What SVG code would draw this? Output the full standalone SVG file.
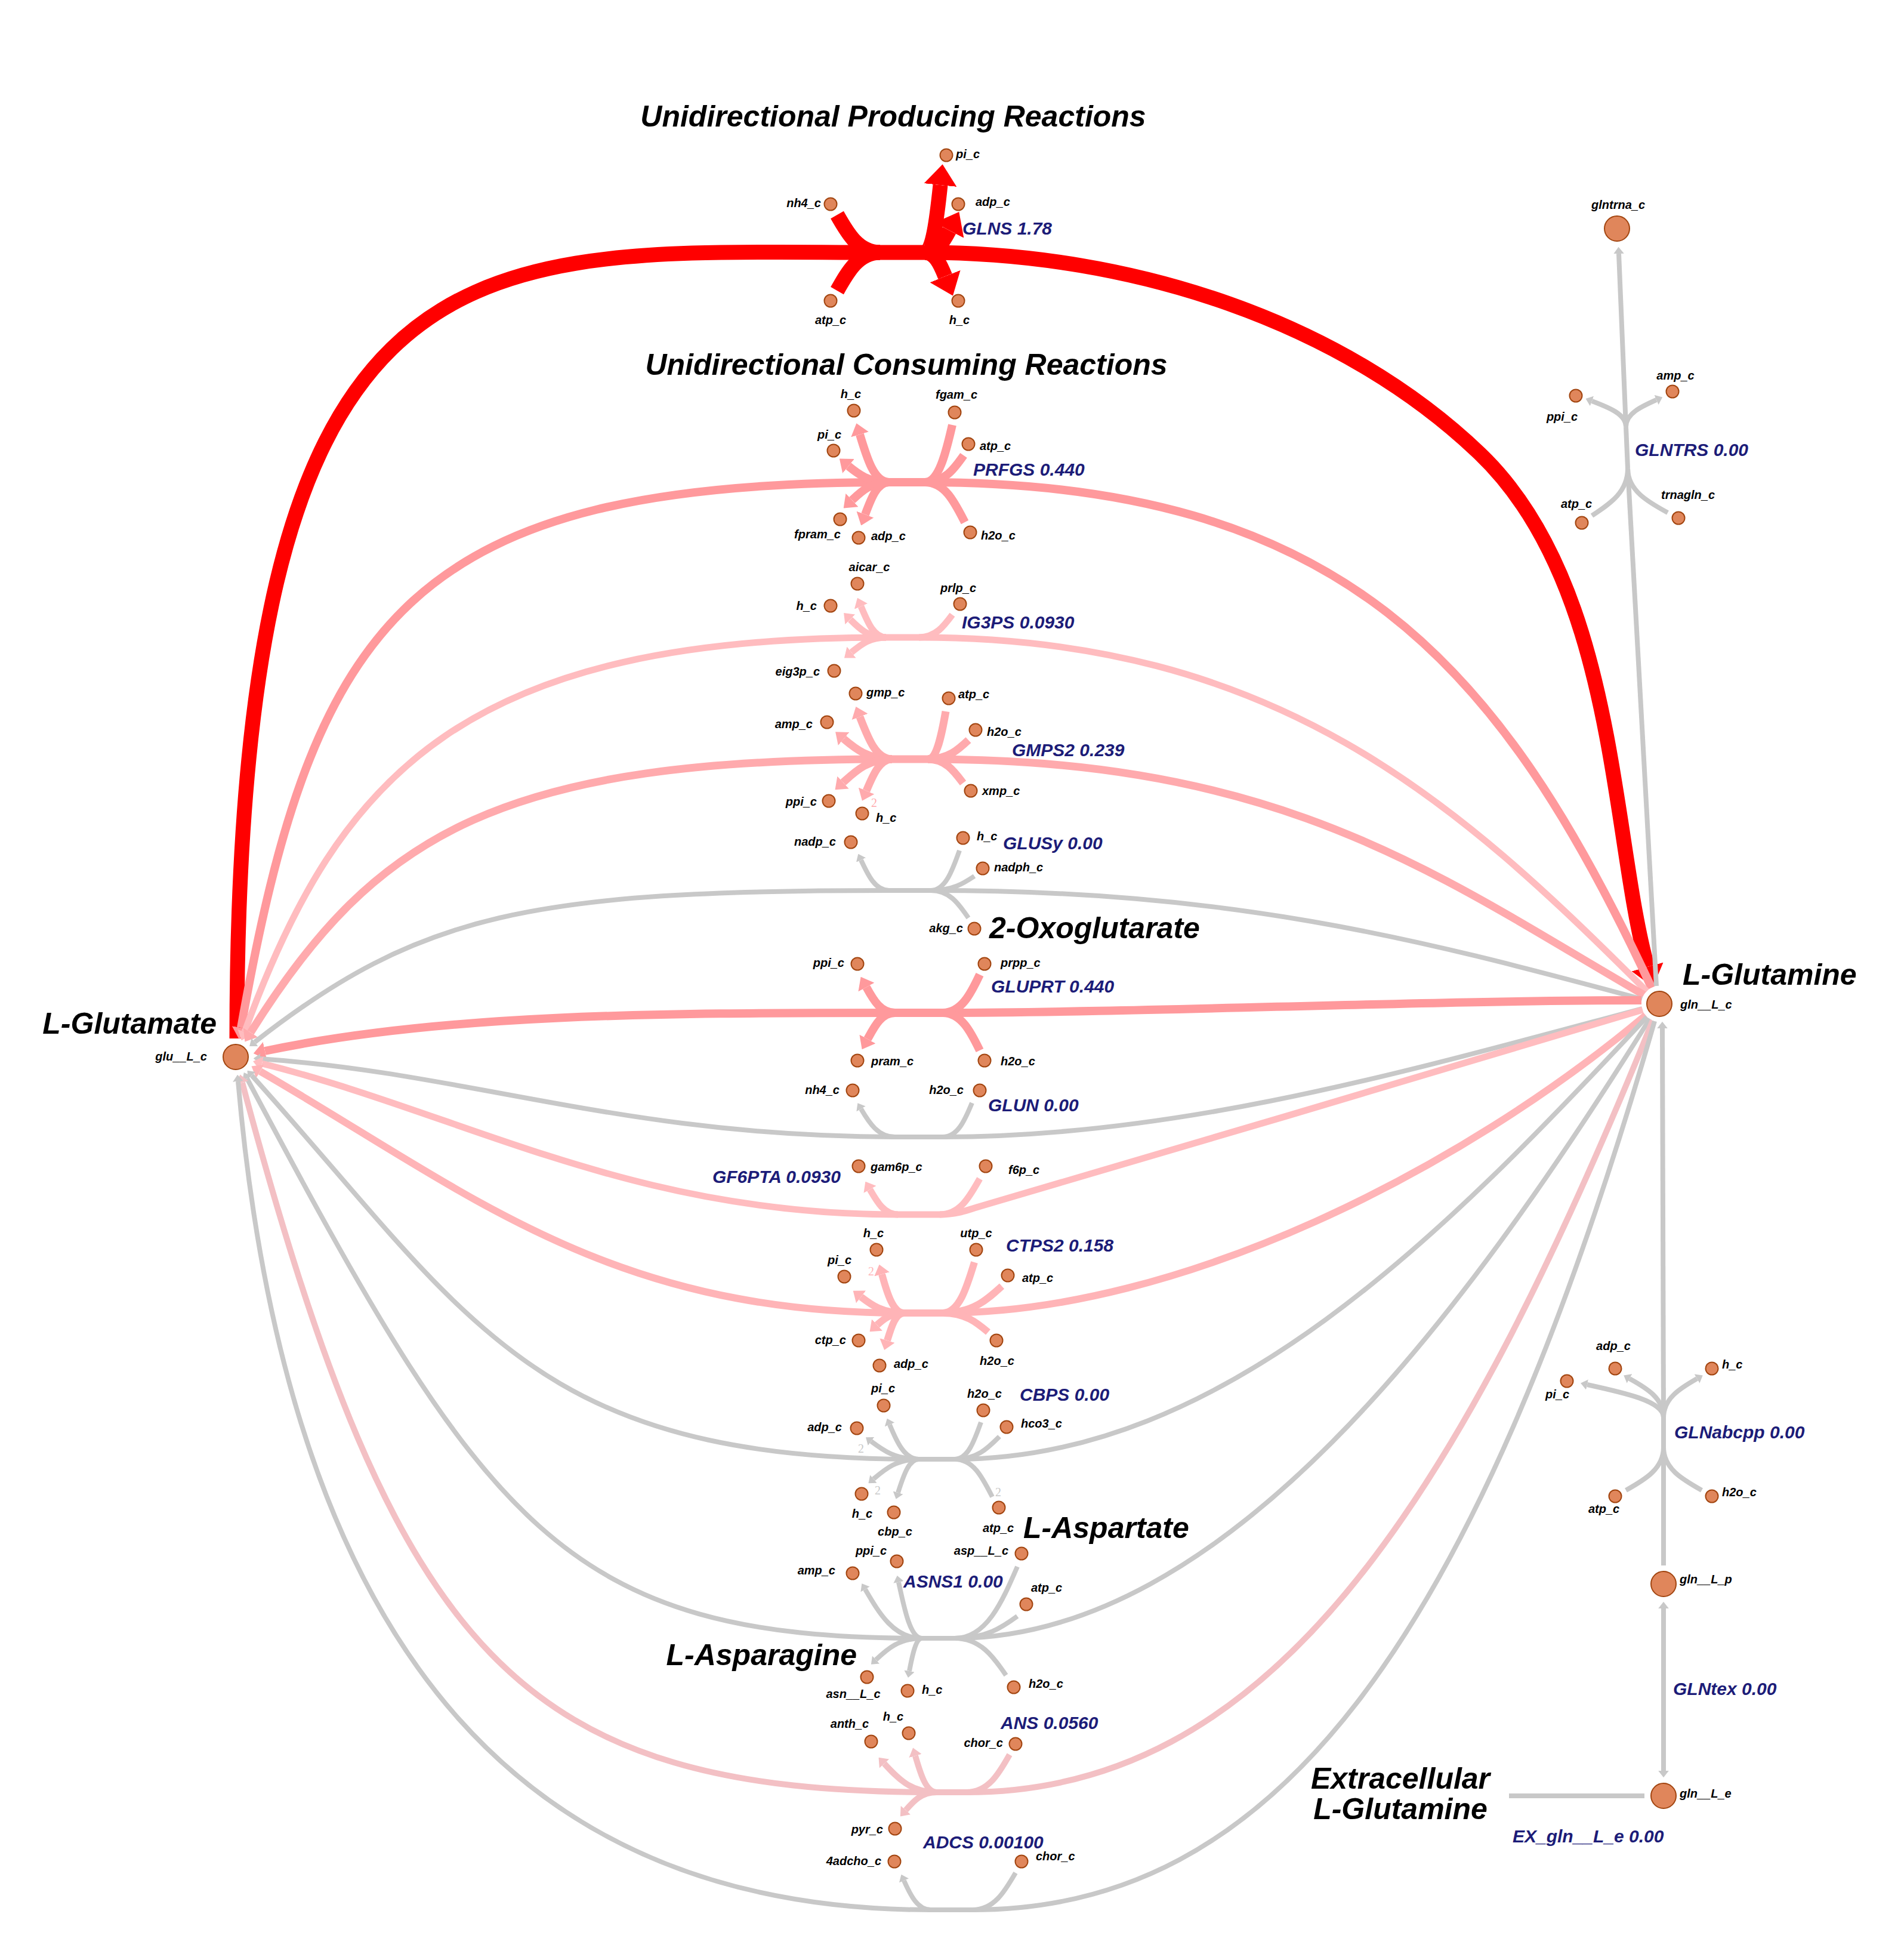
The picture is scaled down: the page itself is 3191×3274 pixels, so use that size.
<svg xmlns="http://www.w3.org/2000/svg" width="3191" height="3274" viewBox="0 0 3191 3274">
<style>
.c{fill:none;stroke-linecap:butt}
.r0{stroke:#ff0000;stroke-width:25}
.r1{stroke:#ff999c;stroke-width:14}
.r2{stroke:#ffaaad;stroke-width:13}
.r3{stroke:#ffb4b7;stroke-width:12}
.r4{stroke:#ffbcbf;stroke-width:11}
.r5{stroke:#f3c0c4;stroke-width:10}
.g{stroke:#c8c8c8;stroke-width:8}
.m0{marker-end:url(#a0)}.m1{marker-end:url(#a1)}.m2{marker-end:url(#a2)}.m3{marker-end:url(#a3)}.m4{marker-end:url(#a4)}.m5{marker-end:url(#a5)}.mg{marker-end:url(#ag)}
.ml{font-family:"Liberation Sans",Arial,sans-serif;font-size:20px;font-weight:bold;font-style:italic;fill:#000}
.rl{font-family:"Liberation Sans",Arial,sans-serif;font-size:30px;font-weight:bold;font-style:italic;fill:#1c1c78}
.big{font-family:"Liberation Sans",Arial,sans-serif;font-size:50px;font-weight:bold;font-style:italic;fill:#000}
.s{fill:#e0865b;stroke:#a24510;stroke-width:2}
.e{text-anchor:end}.mid{text-anchor:middle}
.n2{font-family:"Liberation Serif",serif;font-size:20px;text-anchor:middle}
</style>
<defs>
<marker id="a0" viewBox="0 0 10 10" refX="0" refY="5" markerWidth="1.4" markerHeight="2.2" markerUnits="strokeWidth" orient="auto" preserveAspectRatio="none"><path d="M0,0 L10,5 L0,10 z" fill="#ff0000"/></marker>
<marker id="a1" viewBox="0 0 10 10" refX="0" refY="5" markerWidth="1.4" markerHeight="2.2" markerUnits="strokeWidth" orient="auto" preserveAspectRatio="none"><path d="M0,0 L10,5 L0,10 z" fill="#ff999c"/></marker>
<marker id="a2" viewBox="0 0 10 10" refX="0" refY="5" markerWidth="1.4" markerHeight="2.2" markerUnits="strokeWidth" orient="auto" preserveAspectRatio="none"><path d="M0,0 L10,5 L0,10 z" fill="#ffaaad"/></marker>
<marker id="a3" viewBox="0 0 10 10" refX="0" refY="5" markerWidth="1.4" markerHeight="2.2" markerUnits="strokeWidth" orient="auto" preserveAspectRatio="none"><path d="M0,0 L10,5 L0,10 z" fill="#ffb4b7"/></marker>
<marker id="a4" viewBox="0 0 10 10" refX="0" refY="5" markerWidth="1.4" markerHeight="2.2" markerUnits="strokeWidth" orient="auto" preserveAspectRatio="none"><path d="M0,0 L10,5 L0,10 z" fill="#ffbcbf"/></marker>
<marker id="a5" viewBox="0 0 10 10" refX="0" refY="5" markerWidth="1.4" markerHeight="2.2" markerUnits="strokeWidth" orient="auto" preserveAspectRatio="none"><path d="M0,0 L10,5 L0,10 z" fill="#f3c0c4"/></marker>
<marker id="ag" viewBox="0 0 10 10" refX="0" refY="5" markerWidth="1.4" markerHeight="2.2" markerUnits="strokeWidth" orient="auto" preserveAspectRatio="none"><path d="M0,0 L10,5 L0,10 z" fill="#c8c8c8"/></marker>
</defs>
<rect width="3191" height="3274" fill="#ffffff"/>

<g id="connectors">
<g id="GLNS" class="c r0">
<path d="M397,1740 C397,350 800,423 1475,423"/>
<path d="M1475,423 L1550,423"/>
<path class="m0" d="M1550,423 C1900,423 2250,540 2480,760 C2710,980 2700,1400 2761,1620"/>
<path d="M1475,423 C1439,423 1421,392 1403,360"/>
<path d="M1475,423 C1439,423 1421,455 1403,487"/>
<path class="m0" d="M1550,423 C1563,423 1570,367 1576,310"/>
<path class="m0" d="M1550,423 C1571,423 1581,405 1591,386"/>
<path class="m0" d="M1550,423 C1567,423 1576,443 1584,463"/>
</g>
<g id="PRFGS" class="c r1">
<path d="M1490,808 L1550,808"/>
<path class="m1" d="M1490,808 C690,808 526,1032 404,1722"/>
<path d="M1550,808 C2250,808 2514,1111 2768,1655"/>
<path class="m1" d="M1490,808 C1465,808 1453,768 1441,728"/>
<path class="m1" d="M1490,808 C1456,808 1439,795 1422,781"/>
<path class="m1" d="M1490,808 C1459,808 1444,823 1428,838"/>
<path class="m1" d="M1490,808 C1470,808 1460,835 1450,862"/>
<path d="M1550,808 C1573,808 1585,760 1596,712"/>
<path d="M1550,808 C1583,808 1599,786 1615,763"/>
<path d="M1550,808 C1584,808 1600,842 1617,875"/>
</g>
<g id="IG3PS" class="c r4">
<path d="M1485,1068 L1540,1068"/>
<path class="m4" d="M1485,1068 C785,1068 570,1290 410,1729"/>
<path d="M1540,1068 C2140,1068 2442,1343 2760,1661"/>
<path class="m4" d="M1485,1068 C1464,1068 1454,1042 1443,1016"/>
<path class="m4" d="M1485,1068 C1455,1068 1440,1053 1425,1038"/>
<path class="m4" d="M1485,1068 C1456,1068 1442,1081 1427,1093"/>
<path d="M1540,1068 C1568,1068 1582,1049 1596,1030"/>
</g>
<g id="GMPS2" class="c r2">
<path d="M1495,1272 L1555,1272"/>
<path class="m2" d="M1495,1272 C845,1272 632,1391 420,1730"/>
<path d="M1555,1272 C2155,1272 2409,1467 2755,1667"/>
<path class="m2" d="M1495,1272 C1468,1272 1455,1237 1441,1201"/>
<path class="m2" d="M1495,1272 C1455,1272 1434,1255 1414,1238"/>
<path class="m2" d="M1495,1272 C1454,1272 1434,1292 1413,1311"/>
<path class="m2" d="M1495,1272 C1474,1272 1463,1299 1452,1325"/>
<path d="M1555,1272 C1570,1272 1578,1232 1585,1192"/>
<path d="M1555,1272 C1589,1272 1606,1256 1623,1240"/>
<path d="M1555,1272 C1585,1272 1599,1292 1614,1312"/>
</g>
<g id="GLUSy" class="c g">
<path d="M1490,1492 L1560,1492"/>
<path class="mg" d="M1490,1492 C890,1492 703,1530 427,1746"/>
<path d="M1560,1492 C2060,1492 2366,1570 2752,1674"/>
<path class="mg" d="M1490,1492 C1467,1492 1455,1467 1443,1441"/>
<path d="M1560,1492 C1584,1492 1596,1459 1608,1425"/>
<path d="M1560,1492 C1597,1492 1615,1480 1633,1468"/>
<path d="M1560,1492 C1592,1492 1607,1515 1623,1538"/>
</g>
<g id="GLUPRT" class="c r1">
<path d="M1500,1697 L1580,1697"/>
<path class="m1" d="M1500,1697 C1100,1697 737,1699 444,1761"/>
<path d="M1580,1697 C1900,1697 2400,1676 2751,1676"/>
<path class="m1" d="M1500,1697 C1476,1697 1464,1676 1452,1654"/>
<path class="m1" d="M1500,1697 C1477,1697 1466,1719 1454,1741"/>
<path d="M1580,1697 C1611,1697 1627,1665 1642,1633"/>
<path d="M1580,1697 C1611,1697 1627,1729 1642,1760"/>
</g>
<g id="GLUN" class="c g">
<path d="M1500,1905 L1580,1905"/>
<path class="mg" d="M1500,1905 C1050,1905 785,1798 436,1774"/>
<path d="M1580,1905 C1980,1905 2366,1793 2752,1690"/>
<path class="mg" d="M1500,1905 C1472,1905 1457,1882 1443,1858"/>
<path d="M1580,1905 C1605,1905 1617,1877 1629,1848"/>
</g>
<g id="GF6PTA" class="c r4">
<path d="M1505,2035 L1575,2035"/>
<path class="m4" d="M1505,2035 C1055,2035 779,1867 439,1782"/>
<path d="M1575,2035 C1600,2035 1615,2030 1640,2022 C2000,1915 2400,1800 2753,1692"/>
<path class="m4" d="M1505,2035 C1482,2035 1470,2014 1458,1993"/>
<path d="M1575,2035 C1609,2035 1625,2005 1642,1975"/>
</g>
<g id="CTPS2" class="c r3">
<path d="M1515,2200 L1580,2200"/>
<path class="m3" d="M1515,2200 C1015,2200 782,1995 436,1795"/>
<path d="M1580,2200 C1980,2200 2452,1958 2758,1701"/>
<path class="m3" d="M1515,2200 C1497,2200 1487,2168 1478,2135"/>
<path class="m3" d="M1515,2200 C1479,2200 1461,2187 1443,2173"/>
<path class="m3" d="M1515,2200 C1493,2200 1481,2210 1470,2220"/>
<path class="m3" d="M1515,2200 C1501,2200 1494,2223 1487,2246"/>
<path d="M1580,2200 C1607,2200 1620,2158 1633,2115"/>
<path d="M1580,2200 C1630,2200 1654,2178 1679,2155"/>
<path d="M1580,2200 C1618,2200 1637,2216 1656,2232"/>
</g>
<g id="CBPS" class="c g">
<path d="M1540,2445 L1600,2445"/>
<path class="mg" d="M1540,2445 C890,2445 790,2211 422,1802"/>
<path d="M1600,2445 C2050,2445 2419,2070 2760,1704"/>
<path class="mg" d="M1540,2445 C1516,2445 1503,2416 1491,2387"/>
<path class="mg" d="M1540,2445 C1500,2445 1480,2430 1460,2415"/>
<path class="mg" d="M1540,2445 C1502,2445 1483,2462 1464,2478"/>
<path class="mg" d="M1540,2445 C1523,2445 1514,2473 1505,2501"/>
<path d="M1600,2445 C1622,2445 1633,2414 1644,2383"/>
<path d="M1600,2445 C1638,2445 1656,2426 1675,2407"/>
<path d="M1600,2445 C1632,2445 1647,2477 1663,2508"/>
</g>
<g id="ASNS1" class="c g">
<path d="M1545,2745 L1600,2745"/>
<path class="mg" d="M1545,2745 C945,2745 813,2558 414,1807"/>
<path d="M1600,2745 C2050,2745 2447,2216 2765,1707"/>
<path class="mg" d="M1545,2745 C1526,2745 1516,2698 1506,2651"/>
<path class="mg" d="M1545,2745 C1498,2745 1474,2704 1450,2663"/>
<path class="mg" d="M1545,2745 C1507,2745 1487,2763 1468,2781"/>
<path class="mg" d="M1545,2745 C1535,2745 1529,2773 1524,2800"/>
<path d="M1600,2745 C1653,2745 1679,2685 1705,2625"/>
<path d="M1600,2745 C1653,2745 1679,2727 1705,2708"/>
<path d="M1600,2745 C1643,2745 1665,2776 1686,2807"/>
</g>
<g id="ANS" class="c r5">
<path d="M1570,3003 L1620,3003"/>
<path class="m5" d="M1570,3003 C870,3003 665,2780 406,1814"/>
<path d="M1620,3003 C2120,3003 2432,2544 2770,1710"/>
<path class="m5" d="M1570,3003 C1526,3003 1504,2979 1482,2955"/>
<path class="m5" d="M1570,3003 C1552,3003 1543,2973 1534,2942"/>
<path class="m5" d="M1570,3003 C1544,3003 1531,3018 1518,3033"/>
<path d="M1620,3003 C1656,3003 1674,2972 1692,2940"/>
</g>
<g id="ADCS" class="c g">
<path d="M1560,3200 L1630,3200"/>
<path class="mg" d="M1560,3200 C910,3200 486,2808 399,1812"/>
<path d="M1630,3200 C2130,3200 2469,2768 2773,1711"/>
<path class="mg" d="M1560,3200 C1538,3200 1526,3176 1515,3151"/>
<path d="M1630,3200 C1666,3200 1684,3169 1702,3138"/>
</g>
<g id="GLNTRS" class="c g">
<path d="M2728,785 L2725,715"/>
<path class="mg" d="M2725,715 L2713,425"/>
<path d="M2728,785 L2776,1652"/>
<path class="mg" d="M2725,715 C2725,694 2697,683 2668,672"/>
<path class="mg" d="M2725,715 C2725,693 2751,681 2776,670"/>
<path d="M2728,785 C2728,825 2698,844 2668,864"/>
<path d="M2728,785 C2728,822 2762,841 2795,859"/>
</g>
<g id="GLNabcpp" class="c g">
<path d="M2788,2425 L2788,2375"/>
<path class="mg" d="M2788,2375 L2786,1723"/>
<path d="M2788,2425 L2788,2623"/>
<path class="mg" d="M2788,2375 C2788,2343 2760,2326 2731,2310"/>
<path class="mg" d="M2788,2375 C2788,2343 2816,2326 2844,2310"/>
<path class="mg" d="M2788,2375 C2788,2348 2724,2334 2660,2320"/>
<path d="M2788,2425 C2788,2461 2757,2479 2725,2497"/>
<path d="M2788,2425 C2788,2461 2820,2479 2852,2497"/>
</g>
<g id="GLNtex" class="c g">
<path class="mg" d="M2788,2830 L2788,2967"/>
<path class="mg" d="M2788,2830 L2788,2695"/>
</g>
<g id="EX_gln__L_e" class="c g">
<path d="M2529,3009 L2756,3009"/>
</g>
<g id="stoich">
<text class="n2" x="1465" y="1352" fill="#ffaaad">2</text>
<text class="n2" x="1460" y="2137" fill="#ffb4b7">2</text>
<text class="n2" x="1443" y="2434" fill="#c8c8c8">2</text>
<text class="n2" x="1471" y="2504" fill="#c8c8c8">2</text>
<text class="n2" x="1673" y="2507" fill="#c8c8c8">2</text>
</g>
</g>

<g id="reaction-labels">
<text class="rl" x="1613" y="393">GLNS 1.78</text>
<text class="rl" x="1631" y="797">PRFGS 0.440</text>
<text class="rl" x="1612" y="1053">IG3PS 0.0930</text>
<text class="rl" x="1696" y="1267">GMPS2 0.239</text>
<text class="rl" x="1681" y="1423">GLUSy 0.00</text>
<text class="rl" x="1661" y="1663">GLUPRT 0.440</text>
<text class="rl" x="1656" y="1862">GLUN 0.00</text>
<text class="rl e" x="1409" y="1982">GF6PTA 0.0930</text>
<text class="rl" x="1686" y="2097">CTPS2 0.158</text>
<text class="rl" x="1709" y="2347">CBPS 0.00</text>
<text class="rl" x="1514" y="2660">ASNS1 0.00</text>
<text class="rl" x="1677" y="2897">ANS 0.0560</text>
<text class="rl" x="1547" y="3097">ADCS 0.00100</text>
<text class="rl" x="2740" y="764">GLNTRS 0.00</text>
<text class="rl" x="2806" y="2410">GLNabcpp 0.00</text>
<text class="rl" x="2804" y="2840">GLNtex 0.00</text>
<text class="rl" x="2535" y="3087">EX_gln__L_e 0.00</text>
</g>

<g id="headings">
<text class="big mid" x="1497" y="212">Unidirectional Producing Reactions</text>
<text class="big mid" x="1519" y="628">Unidirectional Consuming Reactions</text>
<text class="big e" x="363" y="1732">L-Glutamate</text>
<text class="big" x="2820" y="1650">L-Glutamine</text>
<text class="big" x="1658" y="1572">2-Oxoglutarate</text>
<text class="big" x="1715" y="2577">L-Aspartate</text>
<text class="big e" x="1436" y="2790">L-Asparagine</text>
<text class="big mid" x="2347" y="2997">Extracellular</text>
<text class="big mid" x="2347" y="3048">L-Glutamine</text>
</g>

<g id="nodes">
<g id="glu__L_c"><circle class="s" cx="395" cy="1771" r="21" stroke-width="2.5"/><text class="ml e" x="347" y="1777">glu__L_c</text></g>
<g id="gln__L_c"><circle class="s" cx="2781" cy="1682" r="21" stroke-width="2.5"/><text class="ml" x="2816" y="1690">gln__L_c</text></g>
<g id="glntrna_c"><circle class="s" cx="2710" cy="383" r="21" stroke-width="2.5"/><text class="ml mid" x="2712" y="350">glntrna_c</text></g>
<g id="gln__L_p"><circle class="s" cx="2788" cy="2654" r="21" stroke-width="2.5"/><text class="ml" x="2815" y="2653">gln__L_p</text></g>
<g id="gln__L_e"><circle class="s" cx="2788" cy="3009" r="21" stroke-width="2.5"/><text class="ml" x="2815" y="3012">gln__L_e</text></g>

<g id="glns-nh4_c"><circle class="s" cx="1392" cy="342" r="10.5"/><text class="ml e" x="1376" y="347">nh4_c</text></g>
<g id="glns-atp_c"><circle class="s" cx="1392" cy="504" r="10.5"/><text class="ml mid" x="1392" y="543">atp_c</text></g>
<g id="glns-pi_c"><circle class="s" cx="1586" cy="260" r="10.5"/><text class="ml" x="1602" y="265">pi_c</text></g>
<g id="glns-adp_c"><circle class="s" cx="1606" cy="342" r="10.5"/><text class="ml" x="1635" y="345">adp_c</text></g>
<g id="glns-h_c"><circle class="s" cx="1606" cy="504" r="10.5"/><text class="ml mid" x="1608" y="543">h_c</text></g>

<g id="prfgs-h_c"><circle class="s" cx="1431" cy="688" r="10.5"/><text class="ml mid" x="1426" y="667">h_c</text></g>
<g id="prfgs-fgam_c"><circle class="s" cx="1600" cy="691" r="10.5"/><text class="ml mid" x="1603" y="668">fgam_c</text></g>
<g id="prfgs-pi_c"><circle class="s" cx="1397" cy="755" r="10.5"/><text class="ml mid" x="1390" y="735">pi_c</text></g>
<g id="prfgs-atp_c"><circle class="s" cx="1623" cy="744" r="10.5"/><text class="ml" x="1642" y="754">atp_c</text></g>
<g id="prfgs-fpram_c"><circle class="s" cx="1408" cy="870" r="10.5"/><text class="ml mid" x="1370" y="902">fpram_c</text></g>
<g id="prfgs-adp_c"><circle class="s" cx="1439" cy="901" r="10.5"/><text class="ml" x="1460" y="905">adp_c</text></g>
<g id="prfgs-h2o_c"><circle class="s" cx="1626" cy="892" r="10.5"/><text class="ml" x="1644" y="904">h2o_c</text></g>

<g id="ig3ps-aicar_c"><circle class="s" cx="1437" cy="978" r="10.5"/><text class="ml mid" x="1457" y="957">aicar_c</text></g>
<g id="ig3ps-prlp_c"><circle class="s" cx="1609" cy="1012" r="10.5"/><text class="ml mid" x="1606" y="992">prlp_c</text></g>
<g id="ig3ps-h_c"><circle class="s" cx="1392" cy="1015" r="10.5"/><text class="ml e" x="1369" y="1022">h_c</text></g>
<g id="ig3ps-eig3p_c"><circle class="s" cx="1398" cy="1124" r="10.5"/><text class="ml e" x="1374" y="1132">eig3p_c</text></g>

<g id="gmps2-gmp_c"><circle class="s" cx="1434" cy="1162" r="10.5"/><text class="ml" x="1452" y="1167">gmp_c</text></g>
<g id="gmps2-atp_c"><circle class="s" cx="1590" cy="1170" r="10.5"/><text class="ml" x="1606" y="1170">atp_c</text></g>
<g id="gmps2-amp_c"><circle class="s" cx="1386" cy="1210" r="10.5"/><text class="ml e" x="1362" y="1220">amp_c</text></g>
<g id="gmps2-h2o_c"><circle class="s" cx="1635" cy="1223" r="10.5"/><text class="ml" x="1654" y="1233">h2o_c</text></g>
<g id="gmps2-ppi_c"><circle class="s" cx="1389" cy="1342" r="10.5"/><text class="ml e" x="1369" y="1350">ppi_c</text></g>
<g id="gmps2-h_c"><circle class="s" cx="1445" cy="1363" r="10.5"/><text class="ml" x="1468" y="1377">h_c</text></g>
<g id="gmps2-xmp_c"><circle class="s" cx="1627" cy="1325" r="10.5"/><text class="ml" x="1646" y="1332">xmp_c</text></g>

<g id="glusy-nadp_c"><circle class="s" cx="1426" cy="1411" r="10.5"/><text class="ml e" x="1401" y="1417">nadp_c</text></g>
<g id="glusy-h_c"><circle class="s" cx="1614" cy="1404" r="10.5"/><text class="ml" x="1637" y="1408">h_c</text></g>
<g id="glusy-nadph_c"><circle class="s" cx="1647" cy="1455" r="10.5"/><text class="ml" x="1666" y="1460">nadph_c</text></g>
<g id="glusy-akg_c"><circle class="s" cx="1633" cy="1556" r="10.5"/><text class="ml e" x="1614" y="1562">akg_c</text></g>

<g id="gluprt-ppi_c"><circle class="s" cx="1437" cy="1615" r="10.5"/><text class="ml e" x="1415" y="1620">ppi_c</text></g>
<g id="gluprt-prpp_c"><circle class="s" cx="1650" cy="1615" r="10.5"/><text class="ml" x="1677" y="1620">prpp_c</text></g>
<g id="gluprt-pram_c"><circle class="s" cx="1437" cy="1777" r="10.5"/><text class="ml" x="1460" y="1785">pram_c</text></g>
<g id="gluprt-h2o_c"><circle class="s" cx="1650" cy="1777" r="10.5"/><text class="ml" x="1677" y="1785">h2o_c</text></g>

<g id="glun-nh4_c"><circle class="s" cx="1429" cy="1827" r="10.5"/><text class="ml e" x="1407" y="1833">nh4_c</text></g>
<g id="glun-h2o_c"><circle class="s" cx="1642" cy="1827" r="10.5"/><text class="ml e" x="1615" y="1833">h2o_c</text></g>

<g id="gf6pta-gam6p_c"><circle class="s" cx="1439" cy="1954" r="10.5"/><text class="ml" x="1459" y="1962">gam6p_c</text></g>
<g id="gf6pta-f6p_c"><circle class="s" cx="1652" cy="1954" r="10.5"/><text class="ml" x="1690" y="1967">f6p_c</text></g>

<g id="ctps2-h_c"><circle class="s" cx="1469" cy="2094" r="10.5"/><text class="ml mid" x="1464" y="2073">h_c</text></g>
<g id="ctps2-utp_c"><circle class="s" cx="1636" cy="2094" r="10.5"/><text class="ml mid" x="1636" y="2073">utp_c</text></g>
<g id="ctps2-pi_c"><circle class="s" cx="1415" cy="2139" r="10.5"/><text class="ml mid" x="1407" y="2118">pi_c</text></g>
<g id="ctps2-atp_c"><circle class="s" cx="1689" cy="2137" r="10.5"/><text class="ml" x="1713" y="2148">atp_c</text></g>
<g id="ctps2-ctp_c"><circle class="s" cx="1439" cy="2246" r="10.5"/><text class="ml e" x="1418" y="2252">ctp_c</text></g>
<g id="ctps2-adp_c"><circle class="s" cx="1474" cy="2288" r="10.5"/><text class="ml" x="1498" y="2292">adp_c</text></g>
<g id="ctps2-h2o_c"><circle class="s" cx="1670" cy="2246" r="10.5"/><text class="ml mid" x="1671" y="2287">h2o_c</text></g>

<g id="cbps-pi_c"><circle class="s" cx="1481" cy="2355" r="10.5"/><text class="ml mid" x="1480" y="2333">pi_c</text></g>
<g id="cbps-h2o_c"><circle class="s" cx="1648" cy="2363" r="10.5"/><text class="ml mid" x="1650" y="2342">h2o_c</text></g>
<g id="cbps-adp_c"><circle class="s" cx="1436" cy="2393" r="10.5"/><text class="ml e" x="1411" y="2398">adp_c</text></g>
<g id="cbps-hco3_c"><circle class="s" cx="1687" cy="2391" r="10.5"/><text class="ml" x="1711" y="2392">hco3_c</text></g>
<g id="cbps-h_c"><circle class="s" cx="1444" cy="2503" r="10.5"/><text class="ml mid" x="1445" y="2543">h_c</text></g>
<g id="cbps-cbp_c"><circle class="s" cx="1498" cy="2534" r="10.5"/><text class="ml mid" x="1500" y="2573">cbp_c</text></g>
<g id="cbps-atp_c"><circle class="s" cx="1674" cy="2526" r="10.5"/><text class="ml mid" x="1673" y="2567">atp_c</text></g>

<g id="asns1-ppi_c"><circle class="s" cx="1503" cy="2616" r="10.5"/><text class="ml mid" x="1460" y="2605">ppi_c</text></g>
<g id="asns1-amp_c"><circle class="s" cx="1429" cy="2636" r="10.5"/><text class="ml e" x="1400" y="2638">amp_c</text></g>
<g id="asns1-asp__L_c"><circle class="s" cx="1712" cy="2603" r="10.5"/><text class="ml e" x="1690" y="2605">asp__L_c</text></g>
<g id="asns1-atp_c"><circle class="s" cx="1720" cy="2688" r="10.5"/><text class="ml mid" x="1754" y="2667">atp_c</text></g>
<g id="asns1-asn__L_c"><circle class="s" cx="1453" cy="2810" r="10.5"/><text class="ml mid" x="1430" y="2845">asn__L_c</text></g>
<g id="asns1-h_c"><circle class="s" cx="1521" cy="2833" r="10.5"/><text class="ml" x="1545" y="2838">h_c</text></g>
<g id="asns1-h2o_c"><circle class="s" cx="1699" cy="2827" r="10.5"/><text class="ml" x="1724" y="2828">h2o_c</text></g>

<g id="ans-anth_c"><circle class="s" cx="1460" cy="2918" r="10.5"/><text class="ml mid" x="1424" y="2895">anth_c</text></g>
<g id="ans-h_c"><circle class="s" cx="1523" cy="2904" r="10.5"/><text class="ml mid" x="1497" y="2883">h_c</text></g>
<g id="ans-chor_c"><circle class="s" cx="1702" cy="2922" r="10.5"/><text class="ml e" x="1681" y="2927">chor_c</text></g>
<g id="ans-pyr_c"><circle class="s" cx="1500" cy="3064" r="10.5"/><text class="ml e" x="1480" y="3072">pyr_c</text></g>

<g id="adcs-4adcho_c"><circle class="s" cx="1499" cy="3119" r="10.5"/><text class="ml e" x="1477" y="3125">4adcho_c</text></g>
<g id="adcs-chor_c"><circle class="s" cx="1712" cy="3119" r="10.5"/><text class="ml" x="1736" y="3117">chor_c</text></g>

<g id="glntrs-amp_c"><circle class="s" cx="2803" cy="656" r="10.5"/><text class="ml mid" x="2808" y="636">amp_c</text></g>
<g id="glntrs-ppi_c"><circle class="s" cx="2641" cy="663" r="10.5"/><text class="ml mid" x="2618" y="705">ppi_c</text></g>
<g id="glntrs-atp_c"><circle class="s" cx="2651" cy="876" r="10.5"/><text class="ml mid" x="2642" y="851">atp_c</text></g>
<g id="glntrs-trnagln_c"><circle class="s" cx="2813" cy="868" r="10.5"/><text class="ml mid" x="2829" y="836">trnagln_c</text></g>

<g id="glnabcpp-adp_c"><circle class="s" cx="2707" cy="2293" r="10.5"/><text class="ml mid" x="2704" y="2262">adp_c</text></g>
<g id="glnabcpp-h_c"><circle class="s" cx="2869" cy="2293" r="10.5"/><text class="ml" x="2886" y="2293">h_c</text></g>
<g id="glnabcpp-pi_c"><circle class="s" cx="2626" cy="2314" r="10.5"/><text class="ml mid" x="2610" y="2343">pi_c</text></g>
<g id="glnabcpp-atp_c"><circle class="s" cx="2707" cy="2507" r="10.5"/><text class="ml mid" x="2688" y="2535">atp_c</text></g>
<g id="glnabcpp-h2o_c"><circle class="s" cx="2869" cy="2507" r="10.5"/><text class="ml" x="2886" y="2507">h2o_c</text></g>
</g>
</svg>
